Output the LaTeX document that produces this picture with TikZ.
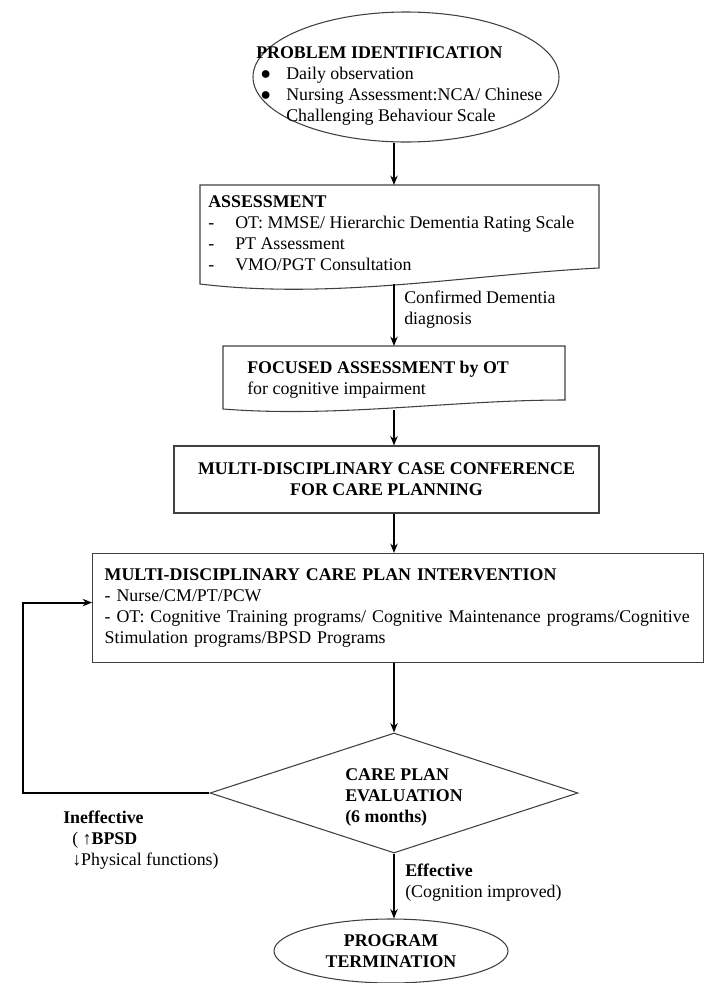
\documentclass[tikz,border=0pt]{standalone}
\usepackage{fontspec}
\setmainfont{Liberation Serif}
\usetikzlibrary{arrows.meta,shapes.geometric}
\tikzset{
  flow/.style={-{Stealth[length=7pt,width=5.5pt]},line width=1.5pt},
  box/.style={draw=black!75,line width=0.8pt},
  txt/.style={align=left,inner sep=0pt,anchor=north west},
}
\begin{document}
\fontsize{13.4}{15.75}\selectfont
\begin{tikzpicture}[x=0.75pt,y=-0.75pt]
  \useasboundingbox (0,0) rectangle (706,983);
  \coordinate (axis) at (394,0);

  % problem identification
  \node[box,ellipse,minimum width=229.5pt,minimum height=97.5pt,inner sep=0pt] (pi) at (406,77) {};
  \node[txt] (pitxt) at (256,46.5) {\textbf{PROBLEM IDENTIFICATION}\\
    \hspace*{3pt}\makebox[19.5pt][l]{●}Daily observation\\
    \hspace*{3pt}\makebox[19.5pt][l]{●}Nursing Assessment:NCA/ Chinese\\
    \hspace*{22.5pt}Challenging Behaviour Scale};

  % assessment
  \draw[box] (200,284) -- (200,185) -- (599,185) -- (599,268)
    .. controls (466,275) and (333,300) .. (200,284) -- cycle;
  \coordinate (astop) at (394,185);
  \coordinate (asbot) at (394,284);
  \node[txt] (astxt) at (208,195.5) {\textbf{ASSESSMENT}\\
    \makebox[20.25pt][l]{-}OT: MMSE/ Hierarchic Dementia Rating Scale\\
    \makebox[20.25pt][l]{-}PT Assessment\\
    \makebox[20.25pt][l]{-}VMO/PGT Consultation};
  \node[txt] (cfd) at (404,290.5) {Confirmed Dementia\\diagnosis};

  % focused assessment
  \draw[box] (223,409) -- (223,346) -- (565,346) -- (565,400)
    .. controls (451,400) and (337,418) .. (223,409) -- cycle;
  \coordinate (fatop) at (394,346);
  \coordinate (fabot) at (394,410);
  \node[txt] (fatxt) at (247,360.5) {\textbf{FOCUSED ASSESSMENT by OT}\\for cognitive impairment};

  % case conference
  \node[box,minimum width=318.75pt,minimum height=50.25pt,align=center] (mdcc) at (386.5,479.5)
    {\textbf{MULTI-DISCIPLINARY CASE CONFERENCE}\\\textbf{FOR CARE PLANNING}};

  % intervention
  \node[box,anchor=north west,minimum width=458.25pt,minimum height=81.75pt,
    text width=440pt,inner xsep=9.1pt,align=left] (mdcpi) at (92,553)
    {\textbf{MULTI-DISCIPLINARY CARE PLAN INTERVENTION}\\
     - Nurse/CM/PT/PCW\\
     - OT: Cognitive Training programs/ Cognitive Maintenance programs/Cognitive\\
     Stimulation programs/BPSD Programs};

  % evaluation
  \node[box,diamond,minimum width=276pt,minimum height=90pt,inner sep=0pt] (ev) at (394,793) {};
  \node[txt] (evtxt) at (345,768.5) {\textbf{CARE PLAN}\\\textbf{EVALUATION}\\\textbf{(6 months)}};
  \coordinate (loop) at (23,793);
  \node[txt] (ineff) at (63,810.5) {\textbf{Ineffective}\\
    \hspace*{6.75pt}( ↑\textbf{BPSD}\\
    \hspace*{6.75pt}↓Physical functions)};
  \node[txt] (eff) at (405,863.5) {\textbf{Effective}\\(Cognition improved)};

  % termination
  \node[box,ellipse,minimum width=175.5pt,minimum height=48pt,inner sep=0pt,align=center] (pt) at (391,951)
    {\textbf{PROGRAM}\\\textbf{TERMINATION}};

  % connectors
  \draw[flow] (pi.south -| axis) -- (astop);
  \draw[line width=1.5pt] (asbot) -- (cfd.west -| axis);
  \draw[flow] (cfd.west -| axis) -- (fatop);
  \draw[flow] (fabot) -- (mdcc.north -| axis);
  \draw[flow] (mdcc.south -| axis) -- (mdcpi.north -| axis);
  \draw[flow] (mdcpi.south -| axis) -- (ev.north);
  \draw[flow] (ev.south) -- (pt.north -| ev.south);
  \draw[flow] (ev.west) -- (loop) |- ([yshift=4.1pt]mdcpi.west);
\end{tikzpicture}
\end{document}
